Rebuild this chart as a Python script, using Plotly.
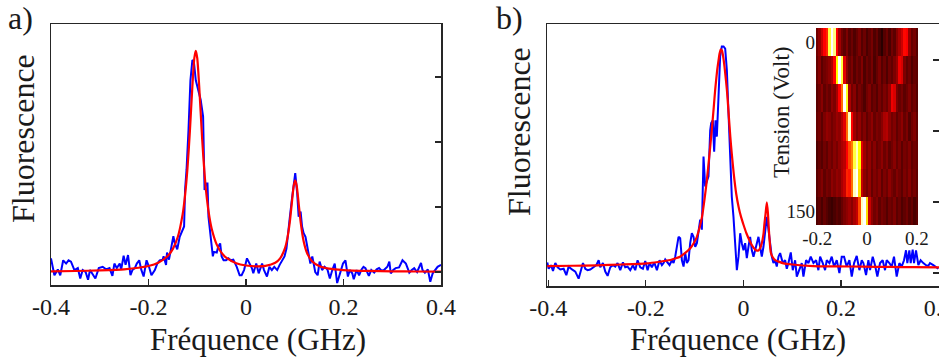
import plotly.graph_objects as go

# ---------------- Panel a data ----------------
XA_BLUE = [-0.400,-0.393,-0.386,-0.381,-0.375,-0.369,-0.364,-0.359,-0.352,-0.345,
           -0.340,-0.335,-0.329,-0.324,-0.320,-0.314,-0.309,-0.302,-0.294,-0.287,
           -0.280,-0.274,-0.270,-0.265,-0.259,-0.256,-0.251,-0.247,-0.242,-0.237,
           -0.233,-0.228,-0.224,-0.219,-0.215,-0.210,-0.204,-0.199,-0.194,-0.187,
           -0.182,-0.177,-0.171,-0.169,-0.164,-0.162,-0.158,-0.153,-0.149,-0.146,
           -0.141,-0.136,-0.130,-0.127,-0.125,-0.122,-0.118,-0.114,-0.110,-0.107,
           -0.103,-0.098,-0.093,-0.088,-0.085,-0.082,-0.079,-0.077,-0.072,-0.068,
           -0.066,-0.060,-0.057,-0.053,-0.050,-0.046,-0.041,-0.036,-0.031,-0.026,
           -0.019,-0.013,-0.009,-0.004,0.002,0.007,0.012,0.015,0.021,0.026,
           0.033,0.037,0.043,0.048,0.053,0.058,0.064,0.069,0.074,0.079,
           0.083,0.086,0.090,0.094,0.098,0.101,0.105,0.108,0.112,0.115,
           0.118,0.122,0.125,0.129,0.132,0.136,0.139,0.142,0.147,0.151,
           0.156,0.161,0.167,0.172,0.177,0.182,0.187,0.191,0.194,0.199,
           0.204,0.209,0.213,0.218,0.221,0.227,0.232,0.237,0.241,0.245,
           0.252,0.257,0.263,0.268,0.273,0.278,0.283,0.290,0.294,0.297,
           0.302,0.307,0.314,0.321,0.328,0.335,0.340,0.345,0.351,0.355,
           0.359,0.362,0.367,0.373,0.378,0.383,0.388,0.393,0.400]
YA_BLUE = [0.21,-0.05,0.04,-0.05,0.18,0.13,0.18,0.16,0.03,0.06,
           -0.10,0.03,0.00,-0.12,0.03,-0.05,-0.10,0.06,0.08,0.04,
           0.06,-0.06,0.13,0.06,0.13,0.04,0.25,0.11,0.26,-0.05,
           0.03,0.06,0.13,0.18,0.04,-0.07,0.18,0.08,-0.05,0.03,
           0.13,0.18,0.19,0.24,0.11,0.30,0.19,0.39,0.55,0.44,
           0.35,0.54,0.67,0.70,1.26,1.57,2.18,2.95,3.26,3.24,
           2.95,2.80,2.65,2.39,1.26,1.36,1.36,0.85,0.54,0.24,
           0.31,0.30,0.39,0.44,0.24,0.18,0.18,0.21,0.18,0.19,
           0.08,-0.05,-0.05,0.03,0.21,0.13,0.06,-0.02,0.13,-0.02,
           0.13,0.03,-0.07,0.08,0.03,0.08,0.03,0.11,0.18,0.24,
           0.36,0.54,0.85,1.11,1.31,1.52,1.21,0.85,0.93,0.70,
           0.60,0.54,0.42,0.24,0.13,0.24,0.13,0.00,-0.05,0.16,
           0.03,0.08,0.04,-0.10,0.03,0.13,-0.17,-0.07,0.03,0.13,
           0.18,-0.07,0.03,-0.02,-0.11,0.03,-0.05,0.04,0.08,0.06,
           -0.06,0.03,-0.01,0.04,0.06,0.02,0.03,0.08,0.16,-0.02,
           0.03,0.06,0.07,0.18,0.13,-0.01,0.03,0.06,0.00,0.08,
           0.14,0.03,-0.01,0.04,-0.15,-0.02,0.04,0.08,0.11]

XA_RED = [-0.4,-0.35,-0.3,-0.25,-0.2,-0.18,-0.16,-0.15,-0.14,-0.13,-0.125,-0.12,-0.115,
          -0.11,-0.106,-0.103,-0.1,-0.096,-0.09,-0.085,-0.08,-0.075,-0.07,-0.06,-0.05,
          -0.04,-0.02,0.0,0.02,0.04,0.06,0.07,0.08,0.085,0.09,0.095,0.098,0.101,0.104,
          0.108,0.112,0.118,0.125,0.135,0.15,0.17,0.2,0.25,0.3,0.35,0.4]
YA_RED = [0.011,0.015,0.024,0.041,0.092,0.143,0.251,0.356,0.538,0.887,1.18,1.60,2.18,
          2.857,3.29,3.403,3.29,2.857,2.054,1.506,1.115,0.843,0.654,0.421,0.293,
          0.216,0.135,0.0995,0.0865,0.094,0.142,0.210,0.368,0.525,0.778,1.134,1.33,1.411,1.329,
          1.057,0.775,0.481,0.296,0.171,0.092,0.052,0.030,0.016,0.010,0.0074,0.0056]

# ---------------- Panel b data ----------------
XB_BLUE = [-0.402,-0.3992,-0.3944,-0.3903,-0.3856,-0.3808,-0.3753,-0.3685,-0.3630,-0.3583,
           -0.3514,-0.3446,-0.3378,-0.3330,-0.3289,-0.3241,-0.3194,-0.3140,-0.3071,-0.3016,
           -0.2968,-0.2934,-0.2880,-0.2832,-0.2784,-0.2730,-0.2675,-0.2627,-0.2580,-0.2525,
           -0.2470,-0.2423,-0.2375,-0.2320,-0.2266,-0.2218,-0.2170,-0.2115,-0.2061,-0.2013,
           -0.1965,-0.1924,-0.1877,-0.1829,-0.1774,-0.1720,-0.1672,-0.1638,-0.1604,-0.1570,
           -0.1515,-0.1467,-0.1433,-0.1399,-0.1365,-0.1331,-0.1297,-0.1262,-0.1228,-0.1194,
           -0.1160,-0.1126,-0.1092,-0.1058,-0.1024,-0.0989,-0.0955,-0.0921,-0.0887,-0.0853,
           -0.0819,-0.0785,-0.0751,-0.0717,-0.0682,-0.0662,-0.0628,-0.0601,-0.0573,-0.0546,
           -0.0512,-0.0478,-0.0444,-0.0409,-0.0375,-0.0341,-0.0307,-0.0273,-0.0239,-0.0205,
           -0.0171,-0.0136,-0.0102,-0.0068,-0.0034,0.0,0.0034,0.0068,0.0102,0.0136,
           0.0171,0.0205,0.0239,0.0273,0.0307,0.0341,0.0375,0.0409,0.0444,0.0478,
           0.0512,0.0546,0.0580,0.0614,0.0648,0.0682,0.0717,0.0751,0.0805,0.0853,
           0.0887,0.0921,0.0969,0.1010,0.1058,0.1092,0.1146,0.1194,0.1228,0.1283,
           0.1331,0.1378,0.1433,0.1488,0.1535,0.1570,0.1624,0.1672,0.1706,0.1761,
           0.1808,0.1856,0.1911,0.1965,0.2013,0.2061,0.2115,0.2170,0.2218,0.2266,
           0.2320,0.2375,0.2423,0.2457,0.2511,0.2559,0.2593,0.2648,0.2695,0.2743,
           0.2798,0.2852,0.2900,0.2934,0.2989,0.3037,0.3084,0.3139,0.3194,0.3241,
           0.3289,0.3330,0.3357,0.3398,0.3426,0.3467,0.3494,0.3535,0.3583,0.3630,
           0.3685,0.3740,0.3787,0.3821,0.3890,0.3944,0.3992]
YB_BLUE = [0.15,0.06,0.11,0.03,0.14,0.08,0.05,0.06,-0.03,0.09,
           0.05,0.02,-0.08,0.04,0.14,0.06,0.04,0.05,0.08,0.11,
           0.18,0.08,0.14,0.02,-0.04,0.08,0.11,0.09,0.14,0.04,
           0.15,0.08,0.09,0.04,0.11,0.04,0.18,0.08,0.06,0.17,
           0.04,0.14,0.08,0.15,0.04,0.18,0.11,0.14,0.19,0.16,
           0.11,0.18,0.14,0.23,0.37,0.51,0.49,0.18,0.09,0.28,
           0.14,0.18,0.42,0.56,0.51,0.37,0.42,0.61,0.75,0.61,
           1.64,1.22,1.31,1.36,2.01,2.11,2.15,1.71,2.15,1.92,
           2.48,3.05,3.19,3.19,3.16,2.86,2.25,1.50,1.07,0.79,
           0.42,0.04,0.23,0.56,0.42,0.32,0.42,0.21,0.37,0.51,
           0.32,0.23,0.32,0.42,0.51,0.37,0.23,0.37,0.61,0.79,
           0.61,0.37,0.23,0.14,0.18,0.09,0.23,0.28,0.14,0.18,
           0.06,0.14,0.29,0.04,0.18,-0.05,0.04,0.14,-0.05,0.18,
           0.14,0.23,0.14,0.18,0.04,0.23,0.14,0.04,0.18,0.14,
           0.23,0.09,0.18,0.00,0.23,0.23,0.09,0.18,-0.05,0.14,
           0.24,0.04,0.18,0.14,-0.03,0.18,0.04,0.23,0.11,-0.05,
           0.14,0.18,0.04,0.18,0.14,0.09,0.23,-0.05,0.14,0.09,
           0.18,0.32,0.14,0.32,0.14,0.33,0.14,0.32,0.11,0.18,
           0.14,0.11,0.10,0.14,0.11,0.08,0.06]

XB_RED = [-0.402,-0.35,-0.300,-0.25,-0.198,-0.175,-0.150,-0.14,-0.130,-0.12,-0.109,-0.102,
          -0.0955,-0.09,-0.085,-0.08,-0.075,-0.07,-0.065,-0.061,-0.058,-0.054,-0.051,-0.049,
          -0.0464,-0.044,-0.041,-0.038,-0.034,-0.031,-0.027,-0.024,-0.020,-0.015,-0.010,-0.005,
          0.0,0.006,0.0136,0.019,0.024,0.028,0.031,0.034,0.0375,0.041,0.043,0.045,0.0478,
          0.050,0.052,0.054,0.056,0.060,0.065,0.072,0.082,0.1,0.143,0.19,0.246,0.3,0.35,0.402]
YB_RED = [0.098,0.102,0.108,0.12,0.136,0.155,0.183,0.205,0.23,0.28,0.35,0.42,
          0.51,0.64,0.79,1.03,1.31,1.65,2.01,2.33,2.58,2.85,3.00,3.09,
          3.15,3.13,3.02,2.85,2.58,2.30,1.92,1.68,1.40,1.12,0.93,0.79,
          0.68,0.56,0.44,0.37,0.33,0.315,0.32,0.35,0.42,0.55,0.70,0.82,0.995,
          0.85,0.61,0.42,0.29,0.22,0.18,0.16,0.136,0.12,0.098,0.094,0.09,0.085,0.082,0.08]

# ---------------- Inset heatmap data ----------------
INSET_FREQ = [-0.20,-0.19,-0.18,-0.17,-0.16,-0.15,-0.14,-0.13,-0.12,-0.11,
              -0.10,-0.09,-0.08,-0.07,-0.06,-0.05,-0.04,-0.03,-0.02,-0.01,
              0.00,0.01,0.02,0.03,0.04,0.05,0.06,0.07,0.08,0.09,
              0.10,0.11,0.12,0.13,0.14,0.15,0.16,0.17,0.18,0.19,0.20]
INSET_VOLT = [0, 25, 50, 75, 100, 125, 150]
INSET_ROW0 = [0.20,0.26,0.35,0.45,0.50,0.85,1.00,0.90,0.45,0.28,0.20,0.16,0.22,0.15,0.19,0.14,0.18,0.22,0.15,0.19,
              0.13,0.17,0.21,0.14,0.18,0.12,0.07,0.15,0.19,0.13,0.20,0.16,0.24,0.30,0.36,0.46,0.44,0.26,0.18,0.21,0.15]
INSET_ROW1 = [0.18,0.24,0.16,0.20,0.22,0.25,0.30,0.45,0.80,1.00,0.85,0.40,0.25,0.18,0.22,0.15,0.20,0.17,0.23,0.14,
              0.19,0.16,0.21,0.13,0.18,0.22,0.15,0.19,0.14,0.20,0.17,0.22,0.27,0.42,0.38,0.22,0.17,0.20,0.14,0.18,0.16]
INSET_ROW2 = [0.16,0.20,0.24,0.17,0.21,0.18,0.25,0.22,0.30,0.45,0.60,1.00,0.82,0.30,0.20,0.24,0.16,0.21,0.18,0.14,
              0.20,0.23,0.16,0.19,0.15,0.21,0.17,0.22,0.19,0.26,0.42,0.38,0.22,0.18,0.21,0.16,0.19,0.23,0.17,0.20,0.15]
INSET_ROW3 = [0.18,0.21,0.16,0.22,0.26,0.24,0.20,0.23,0.27,0.25,0.32,0.40,0.60,0.95,0.45,0.28,0.22,0.26,0.19,0.23,
              0.17,0.21,0.25,0.18,0.22,0.20,0.24,0.30,0.32,0.25,0.20,0.23,0.17,0.21,0.25,0.18,0.22,0.15,0.20,0.23,0.17]
INSET_ROW4 = [0.14,0.18,0.15,0.20,0.17,0.22,0.19,0.24,0.21,0.26,0.30,0.33,0.45,0.55,0.62,0.85,0.95,0.80,0.40,0.28,
              0.22,0.26,0.19,0.24,0.18,0.21,0.25,0.19,0.23,0.17,0.20,0.24,0.18,0.22,0.16,0.21,0.19,0.23,0.17,0.20,0.18]
INSET_ROW5 = [0.16,0.20,0.23,0.17,0.21,0.19,0.25,0.22,0.26,0.24,0.30,0.35,0.50,0.48,0.60,0.95,1.00,0.75,0.35,0.25,
              0.21,0.26,0.18,0.23,0.20,0.24,0.17,0.22,0.19,0.25,0.21,0.18,0.23,0.20,0.16,0.22,0.19,0.24,0.18,0.21,0.17]
INSET_ROW6 = [0.14,0.17,0.13,0.18,0.15,0.12,0.10,0.13,0.16,0.14,0.18,0.22,0.25,0.28,0.24,0.30,0.35,0.55,0.95,1.00,
              0.75,0.35,0.25,0.20,0.23,0.17,0.21,0.19,0.15,0.20,0.18,0.22,0.16,0.19,0.14,0.17,0.20,0.15,0.18,0.13,0.16]

MAIN_TICKS = [-0.4, -0.2, 0, 0.2, 0.4]
MAIN_TICK_TEXT = ['-0.4', '-0.2', '0', '0.2', '0.4']
INSET_TICKS = [-0.2, 0, 0.2]
INSET_TICK_TEXT = ['-0.2', '0', '0.2']

W, H = 939, 360
FONT = 'Liberation Serif, DejaVu Serif, serif'
TXT = '#1a1a1a'
AX = '#262626'
BLUE = 'rgb(0,0,255)'
RED = 'rgb(255,0,0)'
HOT = [[0.0, 'rgb(0,0,0)'], [0.45, 'rgb(255,0,0)'], [0.8, 'rgb(255,255,0)'], [1.0, 'rgb(255,255,255)']]

fig = go.Figure()
fig.add_trace(go.Scatter(x=XA_BLUE, y=YA_BLUE, mode='lines', line=dict(color=BLUE, width=2),
                         xaxis='x', yaxis='y', showlegend=False, hoverinfo='skip'))
fig.add_trace(go.Scatter(x=XA_RED, y=YA_RED, mode='lines', line=dict(color=RED, width=2.2, shape='spline', smoothing=0.6),
                         xaxis='x', yaxis='y', showlegend=False, hoverinfo='skip'))
fig.add_trace(go.Scatter(x=XB_BLUE, y=YB_BLUE, mode='lines', line=dict(color=BLUE, width=2),
                         xaxis='x2', yaxis='y2', showlegend=False, hoverinfo='skip'))
fig.add_trace(go.Scatter(x=XB_RED, y=YB_RED, mode='lines', line=dict(color=RED, width=2.2, shape='spline', smoothing=0.6),
                         xaxis='x2', yaxis='y2', showlegend=False, hoverinfo='skip'))
fig.add_trace(go.Heatmap(x=INSET_FREQ, y=INSET_VOLT,
                         z=[INSET_ROW0, INSET_ROW1, INSET_ROW2, INSET_ROW3, INSET_ROW4, INSET_ROW5, INSET_ROW6],
                         colorscale=HOT, zmin=0, zmax=1, showscale=False,
                         xaxis='x3', yaxis='y3', hoverinfo='skip'))

def px_x(p):
    return p / W

def px_y(p):
    return 1 - p / H

common_x = dict(ticks='inside', ticklen=6, tickwidth=1.2, tickcolor=AX, showline=True, linecolor=AX,
                linewidth=1.5, mirror=True, showgrid=False, zeroline=False, automargin=False,
                tickvals=MAIN_TICKS, ticktext=MAIN_TICK_TEXT, ticklabeloverflow='allow',
                tickfont=dict(family=FONT, size=24, color=TXT))
common_y = dict(side='right', ticks='inside', ticklen=6, tickwidth=1.2, tickcolor=AX, showline=True,
                linecolor=AX, linewidth=1.5, mirror=True, showgrid=False, zeroline=False, automargin=False,
                tickvals=[0, 1, 2, 3], showticklabels=False)

fig.update_layout(
    template='none',
    autosize=False,
    width=W, height=H,
    margin=dict(l=0, r=0, t=0, b=0, pad=0),
    font=dict(family=FONT, color=TXT),
    paper_bgcolor='white', plot_bgcolor='white',
    xaxis=dict(domain=[px_x(51), px_x(441)], range=[-0.4, 0.4], anchor='y', **common_x),
    yaxis=dict(domain=[px_y(285), px_y(24)], range=[-0.2, 3.815], anchor='x', **common_y),
    xaxis2=dict(domain=[px_x(547), 1.0], range=[-0.4026, 0.4006], anchor='y2', **common_x),
    yaxis2=dict(domain=[px_y(286), px_y(24)], range=[-0.183, 3.507], anchor='x2', **common_y),
    xaxis3=dict(domain=[px_x(816), px_x(918)], range=[-0.205, 0.205], anchor='y3', automargin=False,
                tickvals=INSET_TICKS, ticktext=INSET_TICK_TEXT, ticks='', showline=False,
                showgrid=False, zeroline=False, tickfont=dict(family=FONT, size=19, color=TXT)),
    yaxis3=dict(domain=[px_y(225), px_y(28)], range=[162.5, -12.5], anchor='x3', automargin=False,
                tickvals=[0, 150], ticktext=['0', '150'], ticks='', showline=False,
                showgrid=False, zeroline=False, tickfont=dict(family=FONT, size=19, color=TXT)),
)

def ann(text, x, y, size, angle=0):
    return dict(text=text, x=px_x(x), y=px_y(y), xref='paper', yref='paper', showarrow=False,
                xanchor='center', yanchor='middle', textangle=angle,
                font=dict(family=FONT, size=size, color=TXT))

fig.update_layout(annotations=[
    ann('a)', 20, 18, 32),
    ann('b)', 510, 18, 32),
    ann('Fluorescence', 23, 139, 32, -90),
    ann('Fluorescence', 519, 132, 32, -90),
    ann('Fréquence (GHz)', 258, 339, 31),
    ann('Fréquence (GHz)', 738, 339, 31),
    ann('Tension (Volt)', 781, 112, 23, -90),
])

fig.write_html('out.html',
               config={'displayModeBar': False, 'staticPlot': True},
               post_script="document.body.style.margin='0px'; document.body.style.overflow='hidden';")
